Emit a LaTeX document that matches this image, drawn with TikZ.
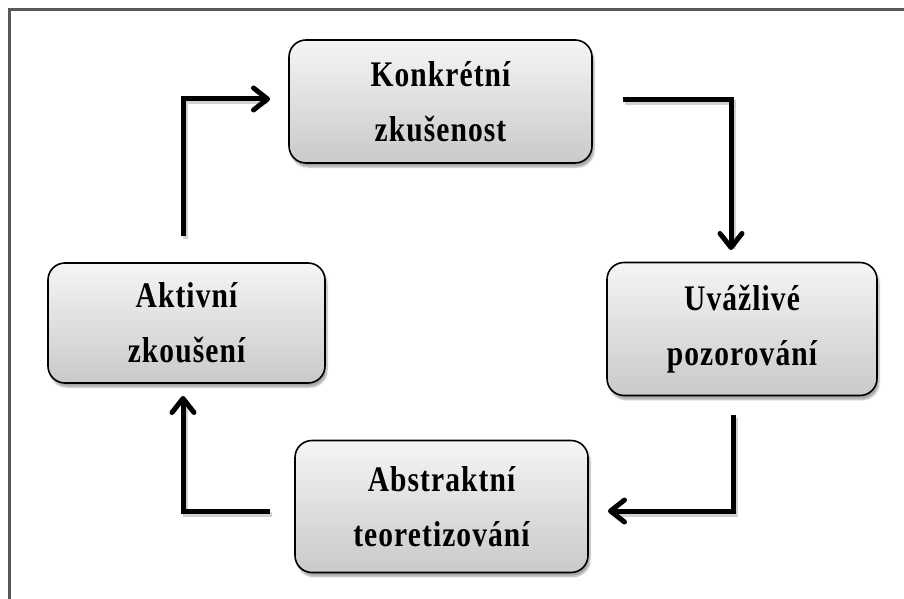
\documentclass[tikz,border=0pt]{standalone}
\usepackage{fontspec}
\newfontfamily\boxfont{Liberation Serif}[FakeStretch=0.82,LetterSpace=3]
\usetikzlibrary{arrows.meta,shadows.blur}
\begin{document}
\begin{tikzpicture}[x=1pt,y=-1pt,
  stage/.style={draw=black, line width=1.6pt, rounded corners=17pt,
    top color=gray!8, bottom color=gray!42, align=center,
    font=\boxfont\bfseries\fontsize{36}{55}\selectfont, inner sep=0pt,
    blur shadow={shadow xshift=2pt, shadow yshift=-4pt, shadow opacity=35, shadow blur steps=6}},
  flow/.style={line width=5pt, line join=miter, -{Straight Barb[length=14pt,width=22pt,line cap=round,line join=round]}},
  flowshadow/.style={line width=5pt, draw=black, opacity=0.18, shorten >=4pt},
]
\useasboundingbox (0,0) rectangle (904,599);
\draw[draw=gray!70!black, line width=3pt] (9.5,610) -- (9.5,10) -- (915,10);

\node[stage, minimum width=303pt, minimum height=123pt] (k) at (440.5,101.5) {Konkrétní\\zkušenost};
\node[stage, minimum width=270pt, minimum height=133pt] (u) at (742,329) {Uvážlivé\\pozorování};
\node[stage, minimum width=293pt, minimum height=132pt] (a) at (441.5,506.5) {Abstraktní\\teoretizování};
\node[stage, minimum width=277pt, minimum height=120pt] (z) at (186.5,323) {Aktivní\\zkoušení};

\coordinate (s1) at (183,236); \coordinate (c1) at (183,99);  \coordinate (e1) at (270,99);
\coordinate (s2) at (623,100); \coordinate (c2) at (731,100); \coordinate (e2) at (731,250);
\coordinate (s3) at (733,415); \coordinate (c3) at (733,511); \coordinate (e3) at (608,511);
\coordinate (s4) at (270,511); \coordinate (c4) at (183,511); \coordinate (e4) at (183,396);

\foreach \s/\c/\e in {s1/c1/e1, s2/c2/e2, s3/c3/e3, s4/c4/e4}{
  \draw[flowshadow] ([shift={(2,3)}]\s) -- ([shift={(2,3)}]\c) -- ([shift={(2,3)}]\e);
}
\draw[flow] (s1) -- (c1) -- (e1);
\draw[flow] (s2) -- (c2) -- (e2);
\draw[flow] (s3) -- (c3) -- (e3);
\draw[flow] (s4) -- (c4) -- (e4);
\end{tikzpicture}
\end{document}
